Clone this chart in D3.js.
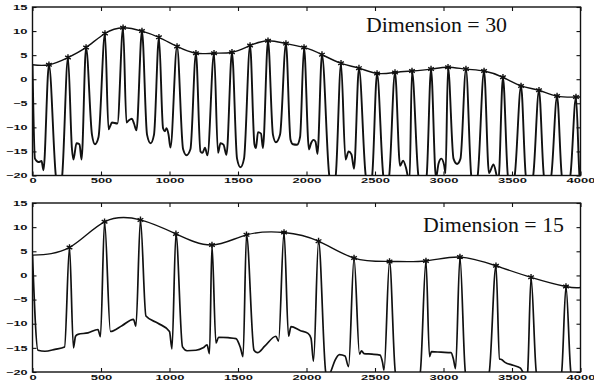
<!DOCTYPE html>
<html>
<head>
<meta charset="utf-8">
<script src="https://cdn.jsdelivr.net/npm/d3@7"></script>
<style>
  body { margin: 0; background: #fff; }
  .tick text { font-family: "Liberation Sans", Arial, sans-serif; font-size: 7px; font-weight: bold; fill: #111; }
  .tick line { stroke: #111; stroke-width: 1.1; }
</style>
</head>
<body>
<div id="chart"></div>
<script>
// Canvas
var svgWidth = 594;
var svgHeight = 381;

// axis ticks
var xTicks = [0, 500, 1000, 1500, 2000, 2500, 3000, 3500, 4000];
var yTicks = [-20, -15, -10, -5, 0, 5, 10, 15];

// ---- Dimension = 30 (top) ----
var title30 = "Dimension = 30";
var start30 = 3.0;
var envEnd30 = -3.7;
var peaksX30 = [120, 259, 391, 529, 661, 799, 923, 1055, 1193, 1325, 1456, 1588, 1719, 1850, 1982,
                2113, 2252, 2383, 2515, 2646, 2770, 2909, 3033, 3164, 3296, 3434, 3566, 3697, 3829, 3967];
var peaksY30 = [3.0, 4.5, 6.6, 9.5, 10.7, 10.0, 8.7, 6.8, 5.4, 5.4, 5.6, 7.0, 8.0, 7.4, 6.6,
                5.1, 3.3, 2.3, 1.2, 1.4, 1.7, 2.1, 2.5, 2.1, 1.7, 0.4, -1.4, -2.3, -3.5, -3.7];
// points of the signal between the peaks (one list per gap)
var troughs30 = [
  [[18, -16.5], [44, -17.2], [66, -17], [80, -18.9]],
  [[172, -20.5], [193, -22.5], [215, -20.5]],
  [[288, -14.5], [299, -16.7], [321, -13.3], [343, -13.5], [358, -16.7]],
  [[434, -11.5], [456, -13.5], [482, -12]],
  [[555, -10.4], [566, -9.8], [580, -9.0], [620, -9.2]],
  [[686, -9.0], [704, -8.5], [726, -8.2], [741, -9.2], [759, -10.6]],
  [[836, -11.5], [862, -13.3], [887, -11.5]],
  [[953, -10.2], [967, -10.8], [978, -10.2], [993, -11.5], [1007, -14.2]],
  [[1099, -14.5], [1124, -15.8], [1153, -14.5]],
  [[1226, -15], [1241, -15.3], [1259, -14.2], [1277, -15.8]],
  [[1354, -15.3], [1372, -13.3], [1394, -13.6], [1416, -15.7]],
  [[1493, -16.5], [1518, -18.3], [1544, -16.5]],
  [[1620, -13.5], [1631, -14.3], [1646, -11.0], [1668, -11.3], [1682, -14.3]],
  [[1755, -11.5], [1777, -13.1], [1807, -11.5]],
  [[1883, -12.5], [1901, -13.5], [1931, -13.6], [1953, -12.0]],
  [[2018, -14.6], [2033, -13.3], [2051, -12.6], [2066, -13.0], [2080, -15.5]],
  [[2168, -20.3], [2190, -21.5], [2212, -20.3]],
  [[2285, -16.7], [2307, -15.0], [2328, -15.6], [2347, -18.6]],
  [[2434, -20.3], [2456, -21.5], [2478, -20.3]],
  [[2562, -20.3], [2580, -21.5], [2602, -20.3]],
  [[2683, -18.0], [2705, -16.9], [2727, -18.5], [2741, -20.3], [2752, -21]],
  [[2818, -20.3], [2847, -22], [2876, -20.3]],
  [[2945, -20.5], [2964, -17.5], [2985, -16.5], [3004, -17.8], [3015, -19.5]],
  [[3073, -16.5], [3099, -17.6], [3124, -16.5]],
  [[3204, -20.3], [3226, -21.5], [3248, -20.3]],
  [[3332, -19.5], [3365, -17.7], [3391, -20.3], [3401, -21]],
  [[3471, -20.3], [3493, -21.5], [3518, -20.3]],
  [[3602, -20.3], [3628, -21.5], [3653, -20.3]],
  [[3734, -20.3], [3759, -21.5], [3785, -20.3]],
  [[3865, -20.3], [3894, -21.5], [3924, -20.3]],
  [[3993, -20.3], [4000, -22]]
];

// ---- Dimension = 15 (bottom) ----
var title15 = "Dimension = 15";
var start15 = 4.2;
var envEnd15 = -2.5;
var peaksX15 = [270, 526, 788, 1047, 1310, 1562, 1836, 2088, 2347, 2606, 2872, 3120, 3383, 3639, 3894];
var peaksY15 = [5.8, 11.1, 11.5, 8.6, 6.3, 8.4, 8.9, 7.1, 3.6, 2.9, 3.0, 3.8, 2.0, -0.4, -2.3];
var troughs15 = [
  [[40, -15.5], [91, -15.7], [164, -15.3], [234, -14.8]],
  [[299, -15.0], [314, -12.6], [332, -12.2], [405, -11.9], [478, -11.2], [496, -12.7]],
  [[569, -11.6], [653, -10.4], [737, -9.1], [755, -10.5]],
  [[828, -8.4], [916, -9.9], [1000, -11.6], [1018, -15.2]],
  [[1095, -14.8], [1128, -15.6], [1193, -15.5], [1245, -15.0], [1274, -14.4], [1292, -16.2]],
  [[1339, -14.0], [1358, -12.8], [1427, -12.9], [1485, -13.1], [1518, -15.0], [1537, -16.8]],
  [[1617, -15.5], [1642, -16.0], [1697, -14.6], [1777, -12.6], [1796, -13.6]],
  [[1869, -12.6], [1887, -10.6], [1953, -11.4], [2011, -12.0], [2033, -13.0], [2051, -17.8]],
  [[2142, -20.3], [2161, -21], [2179, -19.8], [2208, -17.6], [2241, -16.4], [2281, -16.7], [2307, -18.9]],
  [[2387, -16.3], [2402, -15.6], [2420, -16.2], [2478, -16.3], [2537, -16.5], [2555, -18.0], [2566, -19.6]],
  [[2650, -20.3], [2741, -23], [2829, -20.3]],
  [[2898, -16.8], [2912, -15.8], [2982, -15.9], [3055, -16.0], [3073, -17.4], [3088, -19.3]],
  [[3161, -20.3], [3245, -23], [3332, -20.3]],
  [[3409, -17.3], [3423, -17.4], [3449, -18.0], [3507, -18.6], [3562, -19.2], [3584, -20.3], [3599, -21], [3613, -20.3]],
  [[3679, -20.3], [3770, -23], [3861, -20.3]],
  [[3931, -20.3], [3967, -22], [4000, -23]]
];

var svg = d3.select("#chart")
  .append("svg")
  .attr("width", svgWidth)
  .attr("height", svgHeight)
  .style("display", "block");

svg.append("rect").attr("width", svgWidth).attr("height", svgHeight).attr("fill", "#fff");

var xScale = d3.scaleLinear().domain([0, 4000]).range([32.5, 580.5]);

var panels = [
  { id: "p30", title: title30, start: start30, envEnd: envEnd30, px: peaksX30, py: peaksY30, troughs: troughs30,
    yRange: [175.5, 7], titleX: 366, titleY: 31.5, lineW: 1.9 },
  { id: "p15", title: title15, start: start15, envEnd: envEnd15, px: peaksX15, py: peaksY15, troughs: troughs15,
    yRange: [372, 203], titleX: 423, titleY: 231.5, lineW: 1.7 }
];

panels.forEach(function(p) { drawPanel(p); });

function drawPanel(p) {
  var yScale = d3.scaleLinear().domain([-20, 15]).range(p.yRange);
  var x0 = xScale.range()[0], x1 = xScale.range()[1];
  var yTop = p.yRange[1], yBot = p.yRange[0];

  var g = svg.append("g");

  g.append("clipPath").attr("id", "clip-" + p.id)
    .append("rect")
    .attr("x", x0).attr("y", yTop)
    .attr("width", x1 - x0).attr("height", yBot - yTop);

  // signal = start, then gap points and peaks in turn
  var signal = [[0, p.start]];
  p.troughs.forEach(function(t, i) {
    t.forEach(function(pt) { signal.push(pt); });
    if (i < p.px.length) signal.push([p.px[i], p.py[i]]);
  });

  var envelope = [[0, p.start]];
  p.px.forEach(function(v, i) { envelope.push([v, p.py[i]]); });
  envelope.push([4000, p.envEnd]);

  var plot = g.append("g").attr("clip-path", "url(#clip-" + p.id + ")");

  plot.append("path")
    .datum(envelope)
    .attr("fill", "none")
    .attr("stroke", "#111")
    .attr("stroke-width", 1.4)
    .attr("d", d3.line().x(d => xScale(d[0])).y(d => yScale(d[1])).curve(d3.curveNatural));

  plot.append("path")
    .datum(signal)
    .attr("fill", "none")
    .attr("stroke", "#111")
    .attr("stroke-width", p.lineW)
    .attr("stroke-linejoin", "round")
    .attr("d", d3.line().x(d => xScale(d[0])).y(d => yScale(d[1])).curve(d3.curveMonotoneX));

  plot.selectAll(".mark")
    .data(p.px)
    .enter()
    .append("path")
    .attr("class", "mark")
    .attr("transform", (d, i) => `translate(${xScale(d)},${yScale(p.py[i])})`)
    .attr("d", d3.symbol().type(d3.symbolAsterisk).size(30))
    .attr("fill", "none")
    .attr("stroke", "#111")
    .attr("stroke-width", 1.4);

  // axes, ticks pointing inward
  var fmt = d3.format("");
  var charW = 7.2;

  var xAxis = g.append("g")
    .attr("transform", `translate(0,${yBot})`)
    .call(d3.axisBottom(xScale).tickValues(xTicks).tickSize(-4).tickPadding(3).tickFormat(fmt));
  xAxis.selectAll("text")
    .attr("textLength", d => fmt(d).length * charW)
    .attr("lengthAdjust", "spacingAndGlyphs");

  var yAxis = g.append("g")
    .attr("transform", `translate(${x0},0)`)
    .call(d3.axisLeft(yScale).tickValues(yTicks).tickSize(-4).tickPadding(5).tickFormat(fmt));
  yAxis.selectAll("text")
    .attr("textLength", d => String(Math.abs(d)).length * charW + (d < 0 ? 7 : 0))
    .attr("lengthAdjust", "spacingAndGlyphs");

  g.append("g")
    .attr("transform", `translate(0,${yTop})`)
    .call(d3.axisTop(xScale).tickValues(xTicks).tickSize(-4).tickFormat(""));
  g.append("g")
    .attr("transform", `translate(${x1},0)`)
    .call(d3.axisRight(yScale).tickValues(yTicks).tickSize(-4).tickFormat(""));

  g.selectAll(".domain").remove();

  g.append("rect")
    .attr("x", x0).attr("y", yTop)
    .attr("width", x1 - x0).attr("height", yBot - yTop)
    .attr("fill", "none")
    .attr("stroke", "#111")
    .attr("stroke-width", 1.4);

  g.append("text")
    .attr("x", p.titleX)
    .attr("y", p.titleY)
    .attr("font-family", "'Liberation Serif', 'Times New Roman', serif")
    .attr("font-size", 22)
    .attr("textLength", 141)
    .attr("lengthAdjust", "spacingAndGlyphs")
    .attr("fill", "#111")
    .text(p.title);
}
</script>
</body>
</html>
